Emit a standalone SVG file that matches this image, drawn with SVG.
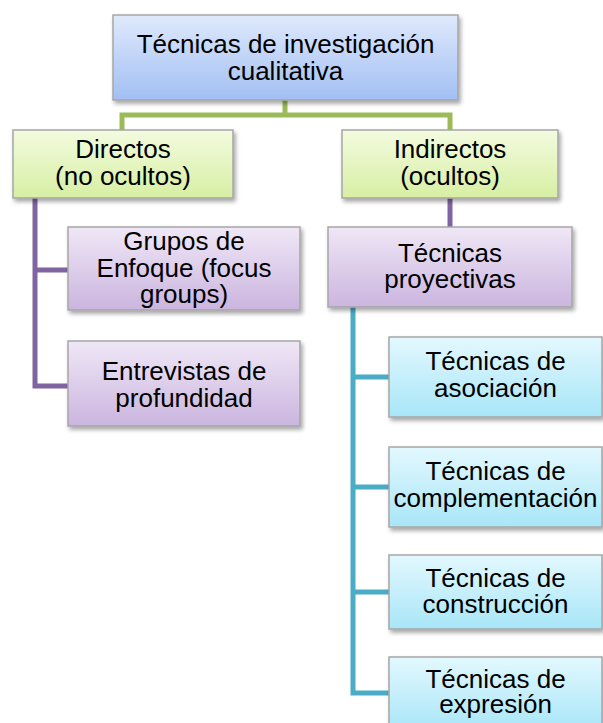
<svg xmlns="http://www.w3.org/2000/svg" width="603" height="723" viewBox="0 0 603 723">
<defs>
<linearGradient id="gBlue" x1="0" y1="0" x2="0" y2="1"><stop offset="0" stop-color="#dfe9fc"/><stop offset="1" stop-color="#a2bff3"/></linearGradient>
<linearGradient id="gGreen" x1="0" y1="0" x2="0" y2="1"><stop offset="0" stop-color="#f3fbdf"/><stop offset="1" stop-color="#d7efa3"/></linearGradient>
<linearGradient id="gPurple" x1="0" y1="0" x2="0" y2="1"><stop offset="0" stop-color="#efe7f6"/><stop offset="1" stop-color="#cbb5df"/></linearGradient>
<linearGradient id="gCyan" x1="0" y1="0" x2="0" y2="1"><stop offset="0" stop-color="#e3f8fe"/><stop offset="1" stop-color="#a8e6f8"/></linearGradient>
<filter id="sh" x="-10%" y="-10%" width="130%" height="140%"><feDropShadow dx="2" dy="3" stdDeviation="2" flood-color="#000" flood-opacity="0.35"/></filter>
</defs>
<style>
.box{stroke:#a6a6a6;stroke-width:1.5;filter:url(#sh)}
.t{font-family:"Liberation Sans",Arial,sans-serif;font-size:26px;fill:#000;text-anchor:middle}
.c{fill:none;stroke-width:5;stroke-linejoin:miter}
</style>
<g id="connectors">
<path class="c" stroke="#9bbb59" d="M122,130 V115 H450 V130 M285,100 V115"/>
<path class="c" stroke="#8064a2" d="M35,198 V386 H68 M35,270 H68"/>
<path class="c" stroke="#8064a2" d="M450,198 V227"/>
<path class="c" stroke="#4bacc6" d="M353,307 V693 H389 M353,377 H389 M353,487 H389 M353,592 H389"/>
</g>
<g id="root">
<rect class="box" x="113" y="15" width="345" height="85" fill="url(#gBlue)"/>
<text class="t" x="285.5" y="53">Técnicas de investigación</text>
<text class="t" x="285.5" y="80">cualitativa</text>
</g>
<g id="directos">
<rect class="box" x="13" y="130" width="220" height="68" fill="url(#gGreen)"/>
<text class="t" x="123" y="158">Directos</text>
<text class="t" x="123" y="185">(no ocultos)</text>
</g>
<g id="indirectos">
<rect class="box" x="342" y="130" width="216" height="68" fill="url(#gGreen)"/>
<text class="t" x="450" y="158">Indirectos</text>
<text class="t" x="450" y="185">(ocultos)</text>
</g>
<g id="grupos">
<rect class="box" x="68" y="227" width="232" height="83" fill="url(#gPurple)"/>
<text class="t" x="184" y="250">Grupos de</text>
<text class="t" x="184" y="277">Enfoque (focus</text>
<text class="t" x="184" y="303">groups)</text>
</g>
<g id="entrevistas">
<rect class="box" x="68" y="341" width="232" height="85" fill="url(#gPurple)"/>
<text class="t" x="184" y="380">Entrevistas de</text>
<text class="t" x="184" y="407">profundidad</text>
</g>
<g id="proyectivas">
<rect class="box" x="328" y="227" width="244" height="80" fill="url(#gPurple)"/>
<text class="t" x="450" y="262">Técnicas</text>
<text class="t" x="450" y="288">proyectivas</text>
</g>
<g id="asociacion">
<rect class="box" x="389" y="337" width="213" height="80" fill="url(#gCyan)"/>
<text class="t" x="495.5" y="370">Técnicas de</text>
<text class="t" x="495.5" y="397">asociación</text>
</g>
<g id="complementacion">
<rect class="box" x="389" y="447" width="213" height="80" fill="url(#gCyan)"/>
<text class="t" x="495.5" y="480">Técnicas de</text>
<text class="t" x="495.5" y="507">complementación</text>
</g>
<g id="construccion">
<rect class="box" x="389" y="555" width="213" height="74" fill="url(#gCyan)"/>
<text class="t" x="495.5" y="587">Técnicas de</text>
<text class="t" x="495.5" y="613">construcción</text>
</g>
<g id="expresion">
<rect class="box" x="389" y="657" width="213" height="74" fill="url(#gCyan)"/>
<text class="t" x="495.5" y="688">Técnicas de</text>
<text class="t" x="495.5" y="713">expresión</text>
</g>
</svg>
